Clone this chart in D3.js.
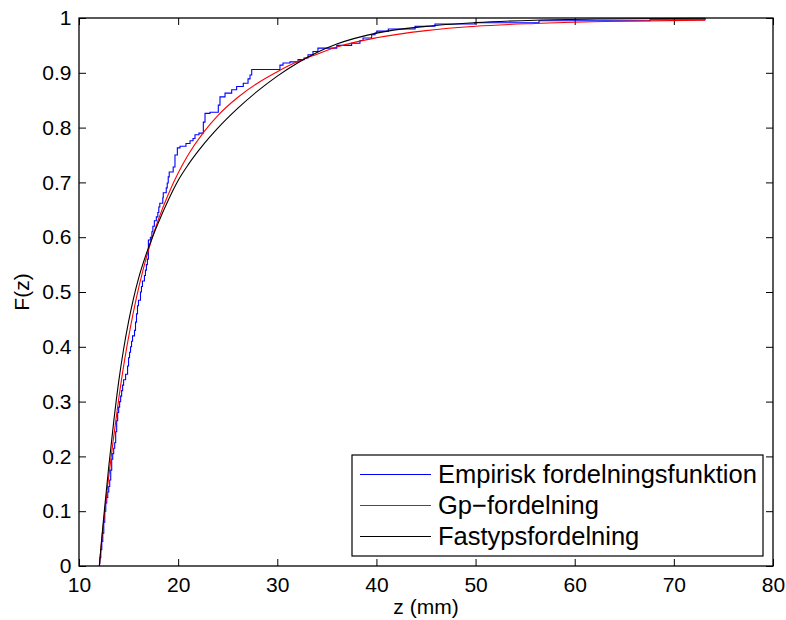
<!DOCTYPE html>
<html>
<head>
<meta charset="utf-8">
<script src="https://cdnjs.cloudflare.com/ajax/libs/d3/7.8.5/d3.min.js"></script>
<style>
  body { margin: 0; background: #fff; }
  svg text { font-family: "Liberation Sans", Arial, Helvetica, sans-serif; fill: #000; }
</style>
</head>
<body>
<script>
// Wrap everything in one function so nothing leaks to global scope
(function(){

    // Tick values for both axes
    var xTicks = [10, 20, 30, 40, 50, 60, 70, 80];
    var yTicks = [0, 0.1, 0.2, 0.3, 0.4, 0.5, 0.6, 0.7, 0.8, 0.9, 1];

    // Empirical CDF, read step by step off the picture (z where the step happens, new level)
    var empZ = [12.02, 12.1, 12.2, 12.3, 12.4, 12.5, 12.6, 12.7, 12.8, 12.9, 13.0, 13.1, 13.2, 13.3, 13.4,
        13.5, 13.6, 13.7, 13.8, 13.9, 14.0, 14.1, 14.2, 14.3, 14.4, 14.5, 14.7, 14.9, 15.0, 15.1, 15.2,
        15.3, 15.4, 15.6, 15.7, 15.8, 15.9, 16.0, 16.2, 16.3, 16.4, 16.6, 16.7, 16.8, 16.9, 17.0, 17.2,
        17.35, 17.45, 17.6, 17.8, 17.95, 18.05, 18.15, 18.45, 18.5, 18.8, 18.9, 19.0, 19.1, 19.5, 19.68,
        19.92, 20.19, 20.79, 21.2, 21.5, 21.7, 22.1, 22.54, 22.71, 23.21, 24.05, 24.22, 24.73, 25.4, 25.9,
        26.57, 27.05, 27.25, 27.42, 30.27, 30.58, 31.28, 32.09, 32.7, 33.1, 33.6, 34.1, 36.0, 37.5, 38.34,
        38.65, 39.52, 39.86, 40.03, 41.2, 43.9, 45.9, 49.94, 56.4, 67.6, 73.15];
    var empF = [0.004, 0.015, 0.03, 0.045, 0.06, 0.08, 0.10, 0.115, 0.125, 0.135, 0.145, 0.157, 0.175, 0.195, 0.205,
        0.215, 0.225, 0.245, 0.265, 0.28, 0.29, 0.30, 0.31, 0.32, 0.33, 0.34, 0.35, 0.365, 0.38, 0.39, 0.40,
        0.41, 0.42, 0.43, 0.445, 0.46, 0.475, 0.485, 0.50, 0.51, 0.52, 0.53, 0.54, 0.55, 0.56, 0.595, 0.60,
        0.61, 0.62, 0.63, 0.637, 0.645, 0.655, 0.662, 0.672, 0.681, 0.69, 0.699, 0.71, 0.719, 0.728, 0.75,
        0.763, 0.766, 0.771, 0.776, 0.78, 0.787, 0.79, 0.81, 0.826, 0.828, 0.841, 0.856, 0.863, 0.869, 0.875,
        0.881, 0.889, 0.896, 0.906, 0.914, 0.918, 0.92, 0.924, 0.927, 0.933, 0.939, 0.945, 0.95, 0.954, 0.959,
        0.9635, 0.9695, 0.9726, 0.976, 0.98, 0.985, 0.989, 0.9914, 0.995, 0.9968, 1.0];

    // Fitted GP distribution (red), sampled points
    var gpZ = [12.05, 12.3, 12.6, 12.9, 13.4, 14.0, 14.6, 15.2, 15.8, 16.5, 17.2, 18.0, 19.0, 20.0, 21.0,
        22.5, 24.0, 26.0, 28.0, 30.0, 32.0, 34.0, 36.0, 40.0, 45.0, 50.0, 56.0, 63.0, 73.15];
    var gpF = [0, 0.05, 0.10, 0.148, 0.222, 0.304, 0.376, 0.437, 0.49, 0.543, 0.588, 0.632, 0.678, 0.717, 0.75,
        0.79, 0.822, 0.855, 0.881, 0.902, 0.92, 0.934, 0.947, 0.964, 0.977, 0.985, 0.990, 0.9935, 0.9962];

    // Fastyps distribution (black), sampled points
    var fastZ = [12.05, 12.3, 12.6, 13.0, 13.5, 14.0, 14.5, 15.0, 15.5, 16.0, 17.0, 18.0, 19.0, 20.0, 21.0,
        22.5, 24.0, 26.0, 28.0, 30.0, 32.0, 34.0, 36.0, 40.0, 45.0, 50.0, 56.0, 63.0, 73.15];
    var fastF = [0, 0.051, 0.109, 0.181, 0.263, 0.336, 0.396, 0.446, 0.4885, 0.5245, 0.5805, 0.6265, 0.6675, 0.7035, 0.732,
        0.768, 0.799, 0.835, 0.8665, 0.894, 0.9176, 0.937, 0.9524, 0.9724, 0.9848, 0.9915, 0.996, 0.9983, 0.9995];

    var legendLabels = ["Empirisk fordelningsfunktion", "Gp\u2212fordelning", "Fastypsfordelning"];
    var seriesColors = ["#0000ff", "#ff0000", "#000000"];

    window.onload = drawChart();

    function drawChart() {
        var width = 786,
            height = 620;
        // plot box in pixels
        var left = 79, right = 773, top = 18, bottom = 566;

        var svg = d3.select("body")
            .append("svg")
            .attr("width", width)
            .attr("height", height);

        var x = d3.scaleLinear().domain([10, 80]).range([left, right]);
        var y = d3.scaleLinear().domain([0, 1]).range([bottom, top]);

        // Axes, ticks pointing inwards like matlab
        svg.append("g")
            .attr("transform", "translate(0," + bottom + ")")
            .call(d3.axisBottom(x).tickValues(xTicks).tickSizeInner(-7).tickSizeOuter(0).tickPadding(11.5));
        svg.append("g")
            .attr("transform", "translate(" + left + ",0)")
            .call(d3.axisLeft(y).tickValues(yTicks).tickSizeInner(-7).tickSizeOuter(0).tickPadding(7.5)
                .tickFormat(function(d){ return String(d); }));
        svg.append("g")
            .attr("transform", "translate(0," + top + ")")
            .call(d3.axisTop(x).tickValues(xTicks).tickSizeInner(-7).tickSizeOuter(0).tickFormat(""));
        svg.append("g")
            .attr("transform", "translate(" + right + ",0)")
            .call(d3.axisRight(y).tickValues(yTicks).tickSizeInner(-7).tickSizeOuter(0).tickFormat(""));

        svg.selectAll(".domain").remove();
        svg.selectAll(".tick line").attr("stroke", "#000").attr("stroke-width", 1);
        svg.selectAll(".tick text").style("font-size", "21px");

        // Series
        var smooth = d3.line()
            .x(function(d){ return x(d[0]); })
            .y(function(d){ return y(d[1]); })
            .curve(d3.curveMonotoneX);
        var stairs = d3.line()
            .x(function(d){ return x(d[0]); })
            .y(function(d){ return y(d[1]); })
            .curve(d3.curveStepAfter);

        var plot = svg.append("g");
        plot.append("path")
            .datum(d3.zip(empZ, empF))
            .attr("fill", "none")
            .attr("stroke", seriesColors[0])
            .attr("stroke-width", 1.1)
            .attr("d", stairs);
        plot.append("path")
            .datum(d3.zip(gpZ, gpF))
            .attr("fill", "none")
            .attr("stroke", seriesColors[1])
            .attr("stroke-width", 1.1)
            .attr("d", smooth);
        plot.append("path")
            .datum(d3.zip(fastZ, fastF))
            .attr("fill", "none")
            .attr("stroke", seriesColors[2])
            .attr("stroke-width", 1.1)
            .attr("d", smooth);

        // Plot box
        svg.append("rect")
            .attr("x", left)
            .attr("y", top)
            .attr("width", right - left)
            .attr("height", bottom - top)
            .attr("fill", "none")
            .attr("stroke", "#000")
            .attr("stroke-width", 1.3);

        // Axis labels
        svg.append("text")
            .attr("x", (left + right) / 2)
            .attr("y", 614)
            .attr("text-anchor", "middle")
            .style("font-size", "21px")
            .text("z (mm)");
        svg.append("text")
            .attr("transform", "translate(29," + (top + bottom) / 2 + ") rotate(-90)")
            .attr("text-anchor", "middle")
            .style("font-size", "21px")
            .text("F(z)");

        // Legend, bottom right
        var lgLeft = 352, lgRight = 763, lgTop = 455, lgBottom = 556;
        var legend = svg.append("g");
        legend.append("rect")
            .attr("x", lgLeft)
            .attr("y", lgTop)
            .attr("width", lgRight - lgLeft)
            .attr("height", lgBottom - lgTop)
            .attr("fill", "#fff")
            .attr("stroke", "#000")
            .attr("stroke-width", 1.2);
        var rows = legend.selectAll(".row")
            .data(legendLabels)
            .enter()
            .append("g")
            .attr("class", "row")
            .attr("transform", function(d, i){ return "translate(0," + (474.5 + i * 31) + ")"; });
        rows.append("line")
            .attr("x1", lgLeft + 8)
            .attr("x2", 431)
            .attr("stroke", function(d, i){ return seriesColors[i]; })
            .attr("stroke-width", 1.1);
        rows.append("text")
            .attr("x", 438)
            .attr("y", 8.5)
            .style("font-size", "25.5px")
            .text(function(d){ return d; });
    }

})();
</script>
</body>
</html>
